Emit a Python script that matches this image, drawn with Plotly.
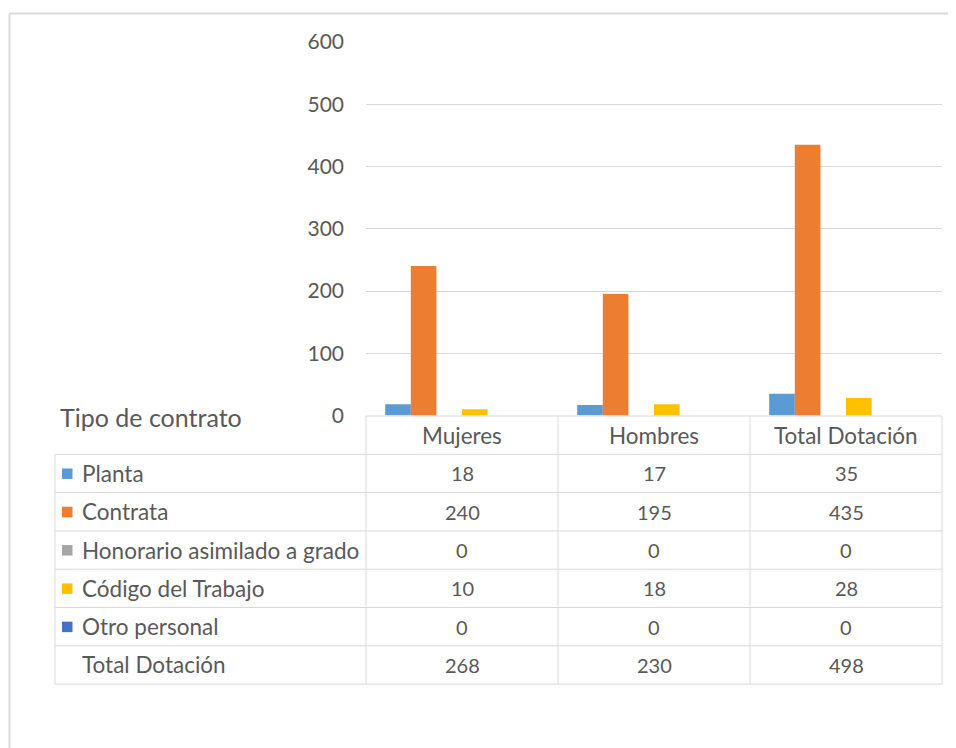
import plotly.graph_objects as go

# ---------------- data ----------------
categories = ["Mujeres", "Hombres", "Total Dotación"]
series_names = ["Planta", "Contrata", "Honorario asimilado a grado",
                "Código del Trabajo", "Otro personal", "Total Dotación"]
planta = [18, 17, 35]
contrata = [240, 195, 435]
honorario = [0, 0, 0]
codigo = [10, 18, 28]
otro = [0, 0, 0]
total_dotacion = [268, 230, 498]
series_values = [planta, contrata, honorario, codigo, otro, total_dotacion]
series_colors = ["#5B9BD5", "#ED7D31", "#A5A5A5", "#FFC000", "#4472C4", "rgba(0,0,0,0)"]
y_ticks = [0, 100, 200, 300, 400, 500, 600]
table_title = "Tipo de contrato"

# ---------------- layout helpers ----------------
W, H = 956, 748
OFF_X, OFF_Y = 8, 8          # page offset of the figure
PAPER_W, PAPER_H = 956, 748
FONT = "Lato, 'Open Sans', sans-serif"
TXT = "#595959"
LINE = "#d9d9d9"


def px(x):
    return (x - OFF_X) / PAPER_W


def py(y):
    return 1 - (y - OFF_Y) / PAPER_H


PLOT_L, PLOT_R = 366, 942
PLOT_T, PLOT_B = 42, 415.5
LEFT_COL = 55
ROW_TOP = 416
ROW_H = 38.3
TEXT_SIZE = 22.5
NUM_SIZE = 20

fig = go.Figure()
for name, vals, col in zip(series_names, series_values, series_colors):
    fig.add_trace(go.Bar(
        x=categories, y=vals, name=name,
        marker=dict(color=col, line=dict(width=0)),
        showlegend=False,
        hoverinfo="skip" if col == "rgba(0,0,0,0)" else None,
    ))

shapes = []
annotations = []

# outer chart frame (top and left edges visible)
shapes.append(dict(type="line", xref="paper", yref="paper",
                   x0=px(9.5), x1=1, y0=py(13.5), y1=py(13.5),
                   line=dict(color=LINE, width=2), layer="below"))
shapes.append(dict(type="line", xref="paper", yref="paper",
                   x0=px(9.5), x1=px(9.5), y0=py(13.5), y1=0,
                   line=dict(color=LINE, width=2), layer="below"))

n_rows = len(series_names)
col_w = (PLOT_R - PLOT_L) / len(categories)
bottom = ROW_TOP + ROW_H * (n_rows + 1)

# horizontal table lines
shapes.append(dict(type="line", xref="paper", yref="paper",
                   x0=px(PLOT_L), x1=px(PLOT_R), y0=py(ROW_TOP), y1=py(ROW_TOP),
                   line=dict(color=LINE, width=1)))
for r in range(1, n_rows + 2):
    yy = ROW_TOP + ROW_H * r
    shapes.append(dict(type="line", xref="paper", yref="paper",
                       x0=px(LEFT_COL), x1=px(PLOT_R), y0=py(yy), y1=py(yy),
                       line=dict(color=LINE, width=1)))
# vertical table lines
shapes.append(dict(type="line", xref="paper", yref="paper",
                   x0=px(LEFT_COL), x1=px(LEFT_COL), y0=py(ROW_TOP + ROW_H), y1=py(bottom),
                   line=dict(color=LINE, width=1)))
for c in range(len(categories) + 1):
    xx = PLOT_L + col_w * c
    shapes.append(dict(type="line", xref="paper", yref="paper",
                       x0=px(xx), x1=px(xx), y0=py(ROW_TOP), y1=py(bottom),
                       line=dict(color=LINE, width=1)))

# header texts
for c, cat in enumerate(categories):
    annotations.append(dict(xref="paper", yref="paper",
                            x=px(PLOT_L + col_w * (c + 0.5)), y=py(ROW_TOP + ROW_H / 2),
                            text=cat, showarrow=False, xanchor="center", yanchor="middle",
                            font=dict(family=FONT, size=TEXT_SIZE, color=TXT)))

annotations.append(dict(xref="paper", yref="paper", x=px(58), y=py(417),
                        text=table_title, showarrow=False, xanchor="left", yanchor="middle",
                        font=dict(family=FONT, size=25, color=TXT)))

# rows
for r, (name, vals, col) in enumerate(zip(series_names, series_values, series_colors)):
    yc = ROW_TOP + ROW_H * (r + 1.5)
    if col != "rgba(0,0,0,0)":
        shapes.append(dict(type="rect", xref="paper", yref="paper",
                           x0=px(62), x1=px(72.5), y0=py(yc - 5), y1=py(yc + 5.5),
                           fillcolor=col, line=dict(width=0)))
    annotations.append(dict(xref="paper", yref="paper", x=px(80), y=py(yc),
                            text=name, showarrow=False, xanchor="left", yanchor="middle",
                            font=dict(family=FONT, size=TEXT_SIZE, color=TXT)))
    for c, v in enumerate(vals):
        annotations.append(dict(xref="paper", yref="paper",
                                x=px(PLOT_L + col_w * (c + 0.5)), y=py(yc),
                                text=str(v), showarrow=False, xanchor="center", yanchor="middle",
                                font=dict(family=FONT, size=NUM_SIZE, color=TXT)))

fig.update_layout(
    width=W, height=H,
    margin=dict(l=0, r=0, t=0, b=0, autoexpand=False),
    paper_bgcolor="white", plot_bgcolor="white",
    barmode="group", bargap=0.2, bargroupgap=0,
    font=dict(family=FONT, color=TXT),
    showlegend=False,
    xaxis=dict(domain=[px(PLOT_L), px(PLOT_R)], range=[-0.5, 2.5],
               showticklabels=False, showgrid=False, zeroline=False, showline=False,
               automargin=False, fixedrange=True),
    yaxis=dict(domain=[py(PLOT_B), py(PLOT_T)], range=[0, 600],
               tickvals=y_ticks, showgrid=True, gridcolor=LINE, gridwidth=1,
               zeroline=False, showline=False, ticks="",
               tickfont=dict(family=FONT, size=21, color=TXT),
               ticklabelstandoff=21, automargin=False, fixedrange=True),
    shapes=shapes,
    annotations=annotations,
)

fig.write_html("out.html")
